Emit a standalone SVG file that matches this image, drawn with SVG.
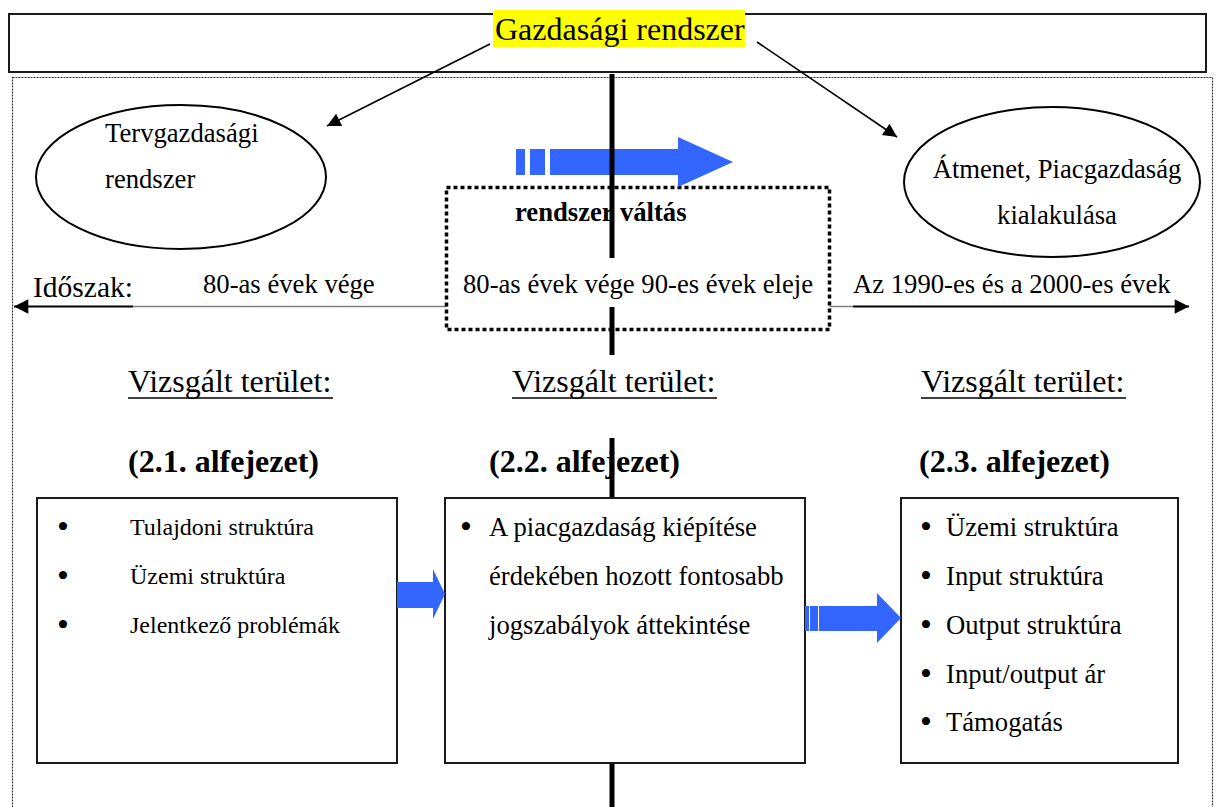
<svg xmlns="http://www.w3.org/2000/svg" width="1216" height="807" viewBox="0 0 1216 807">
<defs>
<style>
text{font-family:"Liberation Serif","Times New Roman",serif;fill:#000}
.t18{font-size:24px}
.t20{font-size:26.67px}
.t24{font-size:32px}
.b{font-weight:bold}
.bul{font-size:34px}
.box{fill:#fff;stroke:#1a1a1a;stroke-width:2}
.ell{fill:#fff;stroke:#000;stroke-width:2}
.blue{fill:#3366ff}
.vline{stroke:#000;stroke-width:5}
</style>
<marker id="ah" viewBox="0 0 10 10" refX="10" refY="5" markerWidth="11" markerHeight="8.5" markerUnits="strokeWidth" orient="auto">
<path d="M0,0 L10,5 L0,10 z" fill="#000"/>
</marker>
<marker id="ah2" viewBox="0 0 10 10" refX="10" refY="5" markerWidth="7" markerHeight="6.5" markerUnits="strokeWidth" orient="auto">
<path d="M0,0 L10,5 L0,10 z" fill="#000"/>
</marker>
</defs>
<rect width="1216" height="807" fill="#fff"/>

<g id="frame">
<rect x="12.5" y="77.5" width="1200" height="740" fill="none" stroke="#333" stroke-width="1.2" stroke-dasharray="2 1"/>
</g>

<g id="top-box">
<rect x="9" y="14" width="1197" height="58" fill="#fff" stroke="#1a1a1a" stroke-width="2"/>
<rect x="493" y="10" width="252" height="37" fill="#ffff00"/>
<text class="t24" x="495" y="40">Gazdasági rendszer</text>
</g>

<g id="timeline">
<line x1="133" y1="306.5" x2="853" y2="306.5" stroke="#808080" stroke-width="1.3"/>
<line x1="133" y1="306.5" x2="14" y2="306.5" stroke="#000" stroke-width="2.2" marker-end="url(#ah2)"/>
<line x1="853" y1="306.5" x2="1189" y2="306.5" stroke="#000" stroke-width="2.2" marker-end="url(#ah2)"/>
<text x="33" y="297" style="font-size:29.5px">Időszak:</text>
<text class="t20" x="203" y="293">80-as évek vége</text>
<text class="t20" x="853" y="293">Az 1990-es és a 2000-es évek</text>
</g>

<g id="valtas-box">
<rect x="446.5" y="187.5" width="383" height="142" fill="#fff" stroke="#000" stroke-width="3.5" stroke-dasharray="4 3"/>
<text class="t20 b" x="515" y="221">rendszer váltás</text>
<text class="t20" x="463" y="293">80-as évek vége 90-es évek eleje</text>
</g>

<g id="big-arrow">
<rect class="blue" x="516" y="149" width="9" height="26"/>
<rect class="blue" x="530" y="149" width="15" height="26"/>
<polygon class="blue" points="550,149 678,149 678,137 733,162 678,187 678,175 550,175"/>
</g>

<g id="tervgazdasagi">
<ellipse class="ell" cx="181" cy="177" rx="145" ry="72"/>
<text class="t20" x="105" y="142">Tervgazdasági</text>
<text class="t20" x="105" y="188">rendszer</text>
</g>

<g id="piacgazdasag">
<ellipse class="ell" cx="1052" cy="182" rx="148" ry="75"/>
<text class="t20" x="1057" y="178" text-anchor="middle">Átmenet, Piacgazdaság</text>
<text class="t20" x="1057" y="224" text-anchor="middle">kialakulása</text>
</g>

<g id="headings">
<text class="t24" x="128" y="392">Vizsgált terület:</text>
<line x1="128" y1="398" x2="333" y2="398" stroke="#000" stroke-width="1.6"/>
<text class="t24" x="512" y="392">Vizsgált terület:</text>
<line x1="512" y1="398" x2="717" y2="398" stroke="#000" stroke-width="1.6"/>
<text class="t24" x="921" y="392">Vizsgált terület:</text>
<line x1="921" y1="398" x2="1126" y2="398" stroke="#000" stroke-width="1.6"/>
<text class="t24 b" x="128" y="472">(2.1. alfejezet)</text>
<text class="t24 b" x="489" y="472">(2.2. alfejezet)</text>
<text class="t24 b" x="919" y="472">(2.3. alfejezet)</text>
</g>

<g id="connectors">
<line x1="490" y1="44" x2="327" y2="126" stroke="#000" stroke-width="1.6" marker-end="url(#ah)"/>
<line x1="757" y1="42" x2="897" y2="137" stroke="#000" stroke-width="1.6" marker-end="url(#ah)"/>
<line class="vline" x1="612" y1="74" x2="612" y2="258"/>
<line class="vline" x1="612" y1="307" x2="612" y2="355"/>
<line class="vline" x1="612" y1="438" x2="612" y2="498"/>
<line class="vline" x1="612" y1="763" x2="612" y2="807"/>
</g>

<g id="box-21">
<rect class="box" x="37" y="498" width="360" height="265"/>
<text class="bul" x="57" y="538">•</text>
<text class="t18" x="130" y="535">Tulajdoni struktúra</text>
<text class="bul" x="57" y="587">•</text>
<text class="t18" x="130" y="584">Üzemi struktúra</text>
<text class="bul" x="57" y="636">•</text>
<text class="t18" x="130" y="633">Jelentkező problémák</text>
</g>

<g id="box-22">
<rect class="box" x="445" y="498" width="360" height="265"/>
<text class="bul" x="460" y="538">•</text>
<text class="t20" x="489" y="536">A piacgazdaság kiépítése</text>
<text class="t20" x="489" y="585">érdekében hozott fontosabb</text>
<text class="t20" x="489" y="634">jogszabályok áttekintése</text>
</g>

<g id="box-23">
<rect class="box" x="901" y="498" width="277" height="265"/>
<text class="bul" x="920" y="538">•</text>
<text class="t20" x="946" y="536">Üzemi struktúra</text>
<text class="bul" x="920" y="587">•</text>
<text class="t20" x="946" y="585">Input struktúra</text>
<text class="bul" x="920" y="636">•</text>
<text class="t20" x="946" y="634">Output struktúra</text>
<text class="bul" x="920" y="685">•</text>
<text class="t20" x="946" y="683">Input/output ár</text>
<text class="bul" x="920" y="733">•</text>
<text class="t20" x="946" y="731">Támogatás</text>
</g>

<g id="blue-arrows">
<polygon class="blue" points="397,582 433,582 433,569 445,594 433,619 433,608 397,608"/>
<rect class="blue" x="805" y="606" width="4" height="25"/>
<rect class="blue" x="810" y="606" width="8" height="25"/>
<polygon class="blue" points="819,606 877,606 877,593 901,618 877,643 877,631 819,631"/>
</g>
</svg>
